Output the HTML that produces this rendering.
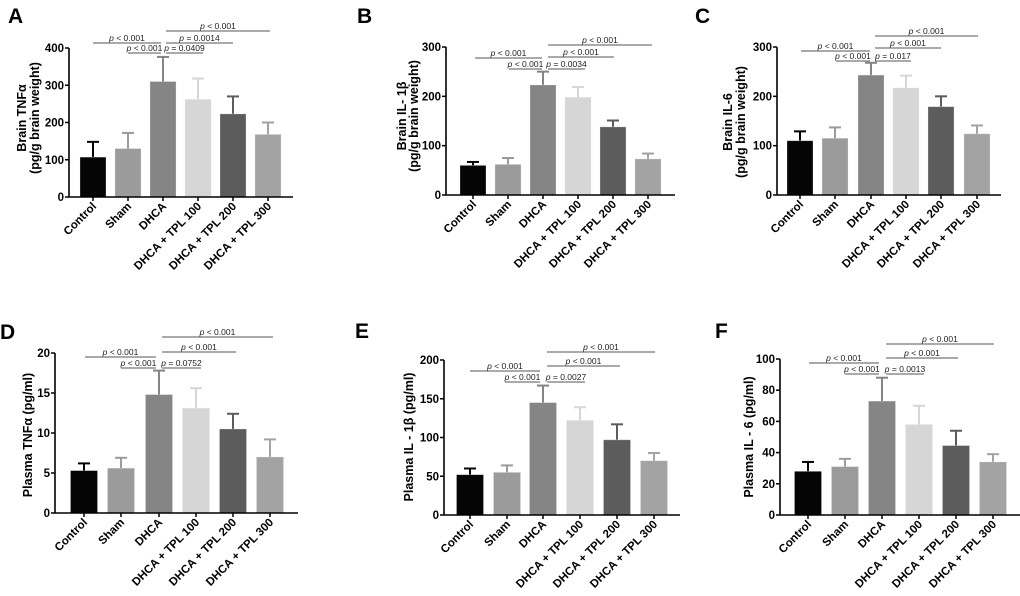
<!DOCTYPE html>
<html><head><meta charset="utf-8"><style>
html,body{margin:0;padding:0;background:#fff;}
svg{display:block;font-family:"Liberation Sans",Arial,sans-serif;}
</style></head><body>
<svg id="s" width="1020" height="596" viewBox="0 0 1020 596" xmlns="http://www.w3.org/2000/svg"></svg>
<script>
const S=document.getElementById('s');let h='';
const cols=['#050505','#9b9b9b','#858585','#d6d6d6','#5c5c5c','#a3a3a3'];
const names=['Control','Sham','DHCA','DHCA + TPL 100','DHCA + TPL 200','DHCA + TPL 300'];
const P=[
{L:'A',lx:8,ly:23,ax:69,yt:48,y0:197,xr:293,max:400,step:100,c:[93,128,163,198,233,268],w:26,
v:[107,130,310,262,223,168],e:[148,172,376,318,270,200],
sig:[[43,93,161,'p < 0.001'],[53,128,161,'p < 0.001'],[53,166,203,'p = 0.0409'],[43,166,233,'p = 0.0014'],[31,166,270,'p < 0.001']],
yl:['Brain TNFα','(pg/g brain weight)'],yx:[26,39],yc:118},
{L:'B',lx:357,ly:23,ax:446,yt:47,y0:195,xr:675,max:300,step:100,c:[473,508,543,578,613,648],w:26,
v:[60,62,223,198,138,73],e:[67,75,250,219,151,84],
sig:[[58,475,542,'p < 0.001'],[69,509,542,'p < 0.001'],[69,548,585,'p = 0.0034'],[57,548,614,'p < 0.001'],[45,548,652,'p < 0.001']],
yl:['Brain IL- 1β','(pg/g brain weight)'],yx:[406,418],yc:116},
{L:'C',lx:695,ly:23,ax:777,yt:47,y0:195,xr:1001,max:300,step:100,c:[800,835,871,906,941,977],w:26,
v:[110,115,243,217,179,124],e:[129,137,268,242,200,141],
sig:[[51,801,870,'p < 0.001'],[61,836,870,'p < 0.001'],[61,875,911,'p = 0.017'],[48,875,941,'p < 0.001'],[36,875,978,'p < 0.001']],
yl:['Brain IL-6','(pg/g brain weight)'],yx:[732,745],yc:122},
{L:'D',lx:0,ly:339,ax:55,yt:353,y0:513,xr:298,max:20,step:5,c:[84,121,159,196,233,270],w:27,
v:[5.3,5.6,14.8,13.1,10.5,7.0],e:[6.2,6.9,17.8,15.6,12.4,9.2],
sig:[[357,85,156,'p < 0.001'],[368,121,156,'p < 0.001'],[368,162,201,'p = 0.0752'],[352,162,236,'p < 0.001'],[337,162,273,'p < 0.001']],
yl:['Plasma TNFα (pg/ml)'],yx:[32],yc:435},
{L:'E',lx:355,ly:338,ax:444,yt:360,y0:515,xr:680,max:200,step:50,c:[470,507,543,580,617,654],w:27,
v:[52,55,145,122,97,70],e:[60,64,167,139,117,80],
sig:[[371,470,540,'p < 0.001'],[382,505,540,'p < 0.001'],[382,547,585,'p = 0.0027'],[366,547,620,'p < 0.001'],[352,547,655,'p < 0.001']],
yl:['Plasma IL - 1β (pg/ml)'],yx:[413],yc:437},
{L:'F',lx:715,ly:338,ax:780,yt:359,y0:515,xr:1020,max:100,step:20,c:[808,845,882,919,956,993],w:27,
v:[28,31,73,58,44.5,34],e:[34,36,88,70,54,39],
sig:[[363,809,879,'p < 0.001'],[374,845,879,'p < 0.001'],[374,886,924,'p = 0.0013'],[358,886,958,'p < 0.001'],[344,886,994,'p < 0.001']],
yl:['Plasma IL - 6 (pg/ml)'],yx:[753],yc:437}
];
for(const p of P){
 const Y=v=>p.y0-(p.y0-p.yt)*v/p.max;
 h+=`<text x="${p.lx}" y="${p.ly}" font-size="21" font-weight="bold">${p.L}</text>`;
 for(let i=0;i<6;i++){
  const x=p.c[i],top=Y(p.v[i]),et=Y(p.e[i]);
  h+=`<line x1="${x}" y1="${top}" x2="${x}" y2="${et}" stroke="${cols[i]}" stroke-width="2"/>`;
  h+=`<line x1="${x-6}" y1="${et}" x2="${x+6}" y2="${et}" stroke="${cols[i]}" stroke-width="2"/>`;
  h+=`<rect x="${x-p.w/2}" y="${top}" width="${p.w}" height="${p.y0-top}" fill="${cols[i]}" stroke="#e8e8e8" stroke-opacity="0.4" stroke-width="0.7"/>`;
  h+=`<line x1="${x}" y1="${p.y0}" x2="${x}" y2="${p.y0+4}" stroke="#000" stroke-width="1.5"/>`;
  h+=`<text transform="translate(${x+4},${p.y0+10}) rotate(-45)" text-anchor="end" font-size="11.5" font-weight="bold">${names[i]}</text>`;
 }
 h+=`<line x1="${p.ax}" y1="${p.yt}" x2="${p.ax}" y2="${p.y0}" stroke="#000" stroke-width="1.6"/>`;
 h+=`<line x1="${p.ax}" y1="${p.y0}" x2="${p.xr}" y2="${p.y0}" stroke="#000" stroke-width="1.6"/>`;
 for(let v=0;v<=p.max+1e-9;v+=p.step){
  const y=Y(v);
  h+=`<line x1="${p.ax-4}" y1="${y}" x2="${p.ax}" y2="${y}" stroke="#000" stroke-width="1.5"/>`;
  h+=`<text x="${p.ax-5}" y="${y+4}" text-anchor="end" font-size="11.5" font-weight="bold">${v}</text>`;
 }
 p.yl.forEach((t,j)=>{h+=`<text transform="translate(${p.yx[j]},${p.yc}) rotate(-90)" text-anchor="middle" font-size="12.5" font-weight="bold">${t}</text>`;});
 for(const s of p.sig){
  h+=`<line x1="${s[1]}" y1="${s[0]}" x2="${s[2]}" y2="${s[0]}" stroke="#555" stroke-width="1"/>`;
  const t=s[3].replace(/^p/,'<tspan font-style="italic">p</tspan>');
  h+=`<text x="${(s[1]+s[2])/2}" y="${s[0]-2}" text-anchor="middle" font-size="8.5" fill="#222">${t}</text>`;
 }
}
S.innerHTML=h;
</script>
</body></html>
